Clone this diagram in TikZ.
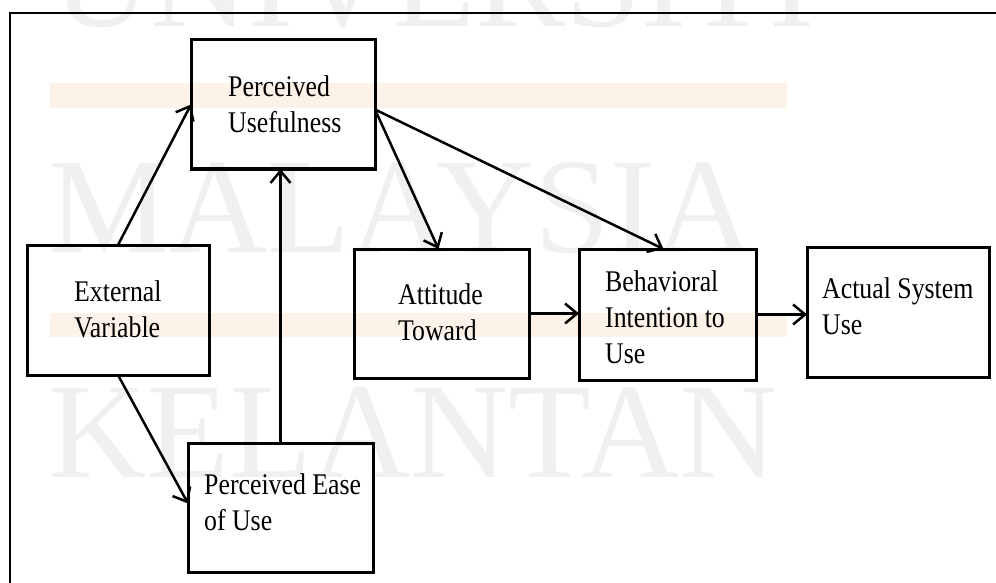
\documentclass[tikz,border=0pt]{standalone}
\usepackage{fontspec}
\setmainfont{Liberation Serif}[FakeStretch=0.86]
\newfontfamily\wmfont{Liberation Serif}
\usetikzlibrary{arrows.meta}
\definecolor{wmgray}{HTML}{F0F0F0}
\definecolor{wmorange}{HTML}{FDF2E8}
\begin{document}
\begin{tikzpicture}[x=1pt,y=-1pt,
  box/.style={draw, line width=3pt, inner sep=0pt, outer sep=0pt},
  lbl/.style={anchor=base west, inner sep=0pt, align=left, font=\fontsize{30}{36}\selectfont},
  conn/.style={line width=2.5pt, -{Straight Barb[length=12pt,width=20pt]}},
  wm/.style={anchor=base west, inner sep=0pt, text=wmgray, font=\wmfont\fontsize{136}{136}\selectfont},
  frame/.style={line width=2.5pt}]
\useasboundingbox (0,0) rectangle (996,583);
\clip (0,0) rectangle (996,583);
% watermark
\fill[wmorange] (50,83) rectangle (787,108);
\fill[wmorange] (50,313) rectangle (787,337);
\node[wm] (wm1) at (52,27) {UNIVERSITI};
\node[wm] (wm2) at (48,252) {MALAYSIA};
\node[wm] (wm3) at (48,477) {KELANTAN};
% outer frame
\draw[frame] (10,600) -- (10,13) -- (1010,13);
% boxes
\node[box, minimum width=184pt, minimum height=129pt] (pu) at (283,104.5) {};
\node[box, minimum width=182pt, minimum height=130pt] (ev) at (118,310) {};
\node[box, minimum width=185pt, minimum height=129pt] (peou) at (280.5,507.5) {};
\node[box, minimum width=175pt, minimum height=129pt] (att) at (441.5,313.5) {};
\node[box, minimum width=177pt, minimum height=131pt] (bi) at (667.5,314.5) {};
\node[box, minimum width=182pt, minimum height=130pt] (asu) at (898,312) {};
% texts (anchor = baseline of last line)
\node[lbl] (tpu) at (228,133) {Perceived\\Usefulness};
\node[lbl] (tev) at (74,337) {External\\Variable};
\node[lbl] (tpeou) at (204,530) {Perceived Ease\\of Use};
\node[lbl] (tatt) at (398,340) {Attitude\\Toward};
\node[lbl] (tbi) at (605,363) {Behavioral\\Intention to\\Use};
\node[lbl] (tasu) at (822,334) {Actual System\\Use};
% connectors
\draw[conn] (ev.north) -- (pu.west);
\draw[conn] (ev.south) -- ([yshift=4pt]peou.west);
\draw[conn] (peou.north) -- (peou.north |- pu.south);
\draw[conn] ([yshift=-5pt]pu.east) -- ([xshift=-3pt]att.north);
\draw[conn] ([yshift=-5pt]pu.east) -- ([xshift=-4pt]bi.north);
\draw[conn] (att.east) -- (att.east -| bi.west);
\draw[conn] (bi.east) -- (bi.east -| asu.west);
\end{tikzpicture}
\end{document}
